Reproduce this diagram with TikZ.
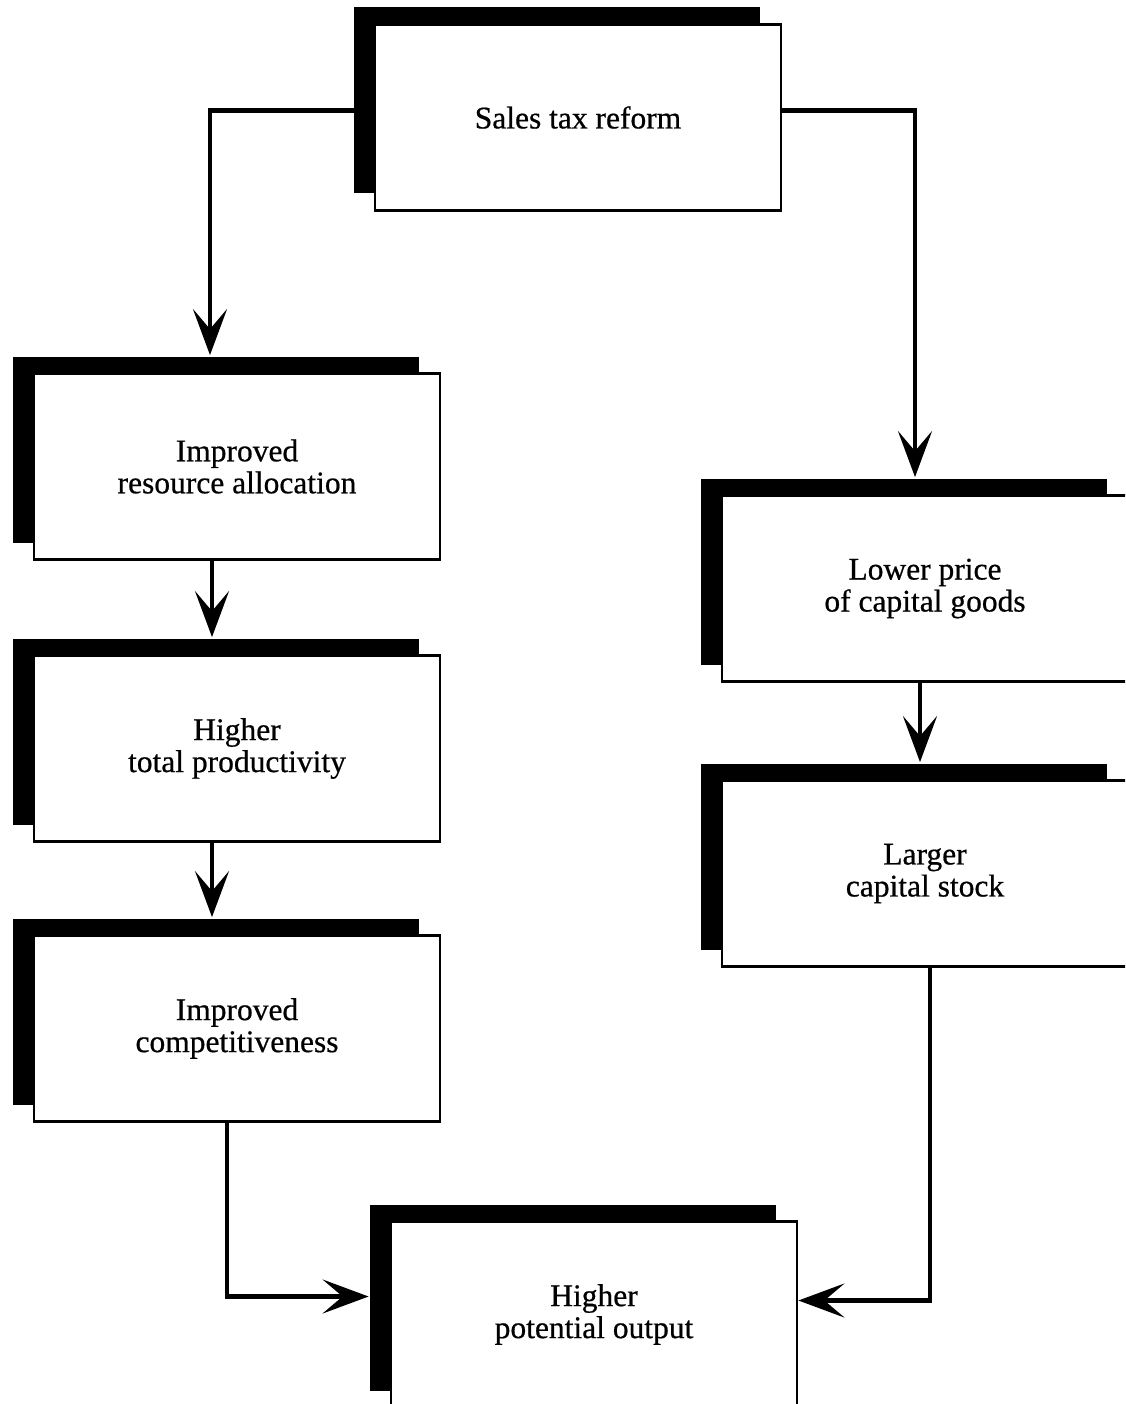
\documentclass[tikz,border=0pt]{standalone}
\usepackage{fontspec}
\setmainfont{Liberation Serif}[FakeBold=0.6]
\usetikzlibrary{arrows.meta,shadows}
\begin{document}
\begin{tikzpicture}[x=1pt,y=-1pt,
  box/.style={draw=black, line width=2.8pt, fill=white, minimum width=406pt, minimum height=186pt,
    inner sep=0pt, align=center, font=\fontsize{31.5}{32}\selectfont,
    general shadow={fill=black, shadow xshift=-21pt, shadow yshift=17pt}},
  arr/.style={line width=4.8pt, -{Stealth[length=46pt,width=34pt,inset=20pt]}}
]
\useasboundingbox (0,0) rectangle (1125,1404);
\clip (0,0) rectangle (1125,1404);

\node[box] (top) at (578,117.5) {Sales tax reform};
\node[box] (ra) at (237,466.5) {Improved\\resource allocation};
\node[box] (tp) at (237,748.5) {Higher\\total productivity};
\node[box] (ic) at (237,1028.5) {Improved\\competitiveness};
\node[box] (lp) at (925,588.5) {Lower price\\of capital goods};
\node[box] (cs) at (925,873.5) {Larger\\capital stock};
\node[box] (po) at (594,1314.5) {Higher\\potential output};

\draw[arr] ([yshift=7pt]top.west) -| ([xshift=-27pt,yshift=17pt]ra.north);
\draw[arr] ([yshift=7pt]top.east) -| ([xshift=-10pt,yshift=17pt]lp.north);
\draw[arr] ([xshift=-25pt]ra.south) -- ([xshift=-25pt,yshift=17pt]tp.north);
\draw[arr] ([xshift=-25pt]tp.south) -- ([xshift=-25pt,yshift=17pt]ic.north);
\draw[arr] ([xshift=-5pt]lp.south) -- ([xshift=-5pt,yshift=17pt]cs.north);
\draw[arr] ([xshift=5pt]cs.south) |- ([yshift=14pt]po.east);
\draw[arr] ([xshift=-10pt]ic.south) |- ([xshift=-21pt,yshift=18pt]po.west);
\end{tikzpicture}
\end{document}
